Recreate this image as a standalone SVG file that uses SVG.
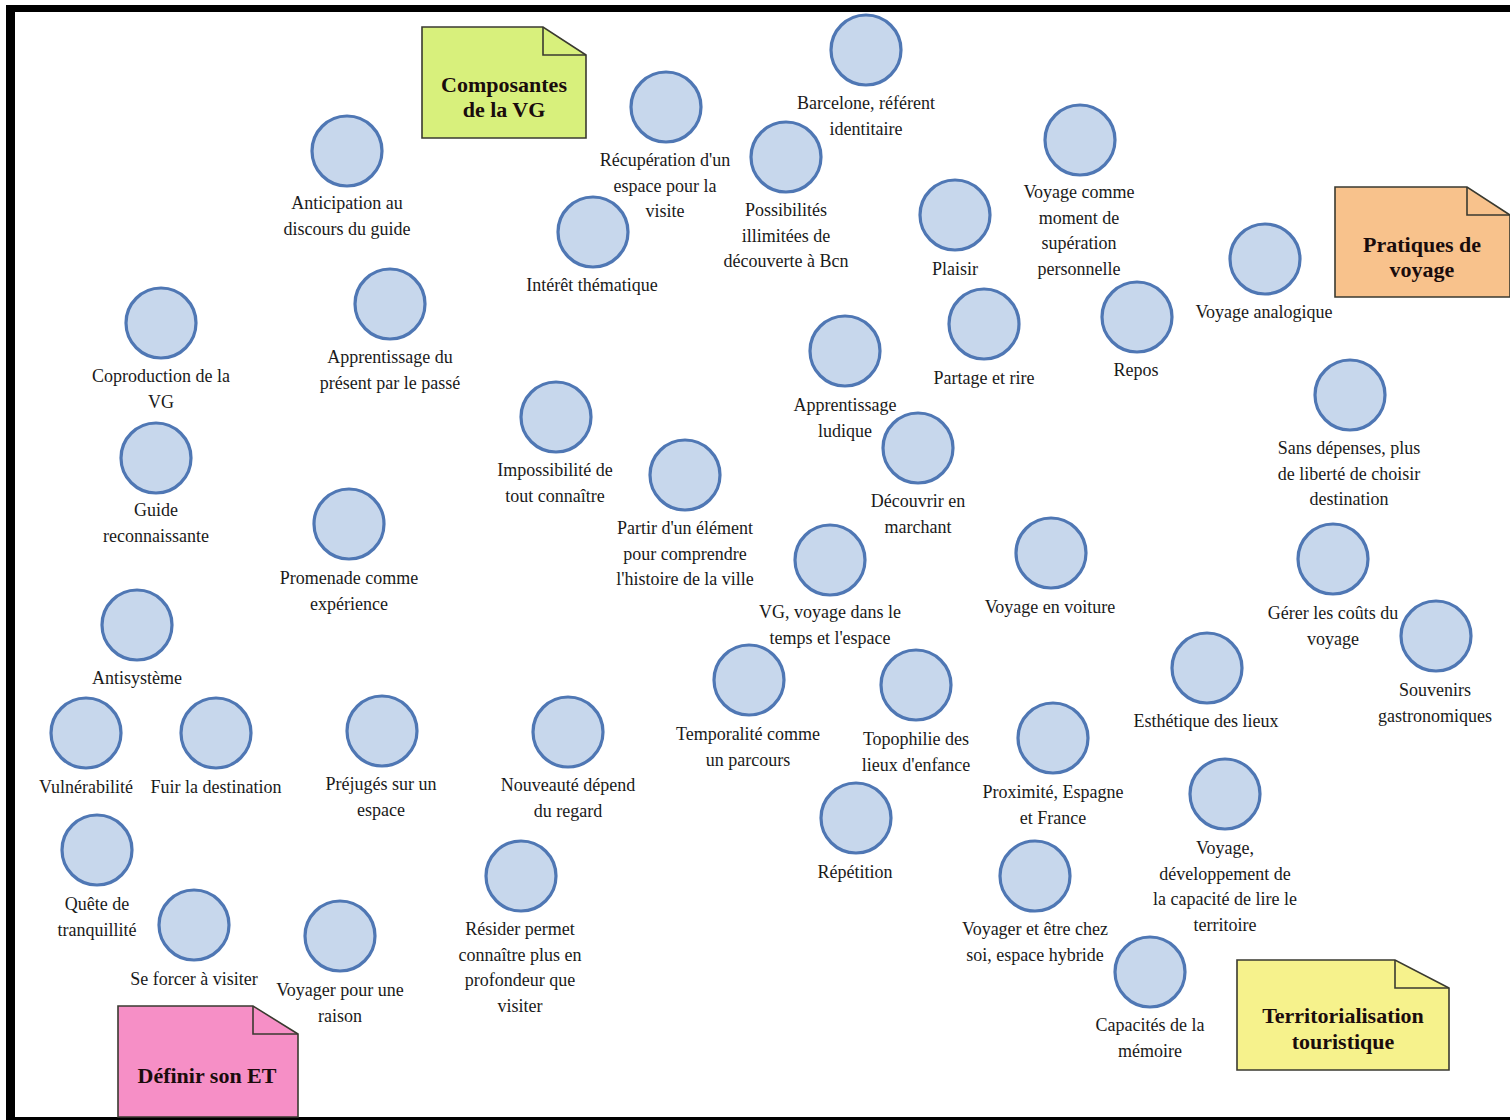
<svg xmlns="http://www.w3.org/2000/svg" width="1510" height="1120" viewBox="0 0 1510 1120">
<style>
.n circle{fill:#c7d7ec;stroke:#4f77b4;stroke-width:3.2}
.n text{font-family:"Liberation Serif","Times New Roman",serif;font-size:18px;fill:#1a1a1a;text-anchor:middle}
.note path.b{stroke:#3a3a30;stroke-width:1.6}
.note path.f{fill:none;stroke:#3a3a30;stroke-width:1.6}
.note text{font-family:"Liberation Serif","Times New Roman",serif;font-size:22px;font-weight:bold;fill:#1a0c0c;text-anchor:middle}
</style>
<rect x="0" y="0" width="1510" height="1120" fill="#ffffff"/>
<g id="frame">
<rect x="6" y="5" width="1504" height="7" fill="#000"/>
<rect x="6" y="5" width="9" height="1115" fill="#000"/>
<rect x="6" y="1117" width="1504" height="3" fill="#000"/>
</g>
<g id="connectors"></g>
<g id="note-composantes" class="note">
<path class="b" fill="#d8f07c" d="M422,27 H543 L586,55 V138 H422 Z"/>
<path class="f" d="M543,27 V55 H586"/>
<text x="504" y="92">Composantes</text>
<text x="504" y="117">de la VG</text>
</g>
<g id="note-pratiques" class="note">
<path class="b" fill="#f8c28c" d="M1335,187 H1467 L1510,215 V297 H1335 Z"/>
<path class="f" d="M1467,187 V215 H1510"/>
<text x="1422" y="252">Pratiques de</text>
<text x="1422" y="277">voyage</text>
</g>
<g id="note-definir" class="note">
<path class="b" fill="#f68fc6" d="M118,1006 H253 L298,1034 V1117 H118 Z"/>
<path class="f" d="M253,1006 V1034 H298"/>
<text x="207" y="1083">Définir son ET</text>
</g>
<g id="note-territorialisation" class="note">
<path class="b" fill="#f6f28c" d="M1237,960 H1395 L1449,988 V1070 H1237 Z"/>
<path class="f" d="M1395,960 V988 H1449"/>
<text x="1343" y="1023">Territorialisation</text>
<text x="1343" y="1049">touristique</text>
</g>
<g id="n1" class="n"><circle cx="866" cy="50" r="35"/><text x="866" y="109">Barcelone, référent<tspan x="866" dy="25.5">identitaire</tspan></text></g>
<g id="n2" class="n"><circle cx="666" cy="107" r="35"/><text x="665" y="166">Récupération d'un<tspan x="665" dy="25.5">espace pour la</tspan><tspan x="665" dy="25.5">visite</tspan></text></g>
<g id="n3" class="n"><circle cx="786" cy="157" r="35"/><text x="786" y="216">Possibilités<tspan x="786" dy="25.5">illimitées de</tspan><tspan x="786" dy="25.5">découverte à Bcn</tspan></text></g>
<g id="n4" class="n"><circle cx="1080" cy="140" r="35"/><text x="1079" y="198">Voyage comme<tspan x="1079" dy="25.5">moment de</tspan><tspan x="1079" dy="25.5">supération</tspan><tspan x="1079" dy="25.5">personnelle</tspan></text></g>
<g id="n5" class="n"><circle cx="955" cy="215" r="35"/><text x="955" y="275">Plaisir</text></g>
<g id="n6" class="n"><circle cx="347" cy="151" r="35"/><text x="347" y="209">Anticipation au<tspan x="347" dy="25.5">discours du guide</tspan></text></g>
<g id="n7" class="n"><circle cx="593" cy="232" r="35"/><text x="592" y="291">Intérêt thématique</text></g>
<g id="n8" class="n"><circle cx="1265" cy="259" r="35"/><text x="1264" y="318">Voyage analogique</text></g>
<g id="n9" class="n"><circle cx="161" cy="323" r="35"/><text x="161" y="382">Coproduction de la<tspan x="161" dy="25.5">VG</tspan></text></g>
<g id="n10" class="n"><circle cx="390" cy="304" r="35"/><text x="390" y="363">Apprentissage du<tspan x="390" dy="25.5">présent par le passé</tspan></text></g>
<g id="n11" class="n"><circle cx="984" cy="324" r="35"/><text x="984" y="384">Partage et rire</text></g>
<g id="n12" class="n"><circle cx="1137" cy="317" r="35"/><text x="1136" y="376">Repos</text></g>
<g id="n13" class="n"><circle cx="845" cy="351" r="35"/><text x="845" y="411">Apprentissage<tspan x="845" dy="25.5">ludique</tspan></text></g>
<g id="n14" class="n"><circle cx="1350" cy="395" r="35"/><text x="1349" y="454">Sans dépenses, plus<tspan x="1349" dy="25.5">de liberté de choisir</tspan><tspan x="1349" dy="25.5">destination</tspan></text></g>
<g id="n15" class="n"><circle cx="556" cy="417" r="35"/><text x="555" y="476">Impossibilité de<tspan x="555" dy="25.5">tout connaître</tspan></text></g>
<g id="n16" class="n"><circle cx="156" cy="458" r="35"/><text x="156" y="516">Guide<tspan x="156" dy="25.5">reconnaissante</tspan></text></g>
<g id="n17" class="n"><circle cx="918" cy="448" r="35"/><text x="918" y="507">Découvrir en<tspan x="918" dy="25.5">marchant</tspan></text></g>
<g id="n18" class="n"><circle cx="685" cy="475" r="35"/><text x="685" y="534">Partir d'un élément<tspan x="685" dy="25.5">pour comprendre</tspan><tspan x="685" dy="25.5">l'histoire de la ville</tspan></text></g>
<g id="n19" class="n"><circle cx="349" cy="524" r="35"/><text x="349" y="584">Promenade comme<tspan x="349" dy="25.5">expérience</tspan></text></g>
<g id="n20" class="n"><circle cx="1051" cy="553" r="35"/><text x="1050" y="613">Voyage en voiture</text></g>
<g id="n21" class="n"><circle cx="830" cy="560" r="35"/><text x="830" y="618">VG, voyage dans le<tspan x="830" dy="25.5">temps et l'espace</tspan></text></g>
<g id="n23" class="n"><circle cx="1436" cy="636" r="35"/><text x="1435" y="696">Souvenirs<tspan x="1435" dy="25.5">gastronomiques</tspan></text></g>
<g id="n22" class="n"><circle cx="1333" cy="559" r="35"/><text x="1333" y="619">Gérer les coûts du<tspan x="1333" dy="25.5">voyage</tspan></text></g>
<g id="n24" class="n"><circle cx="137" cy="625" r="35"/><text x="137" y="684">Antisystème</text></g>
<g id="n25" class="n"><circle cx="749" cy="680" r="35"/><text x="748" y="740">Temporalité comme<tspan x="748" dy="25.5">un parcours</tspan></text></g>
<g id="n26" class="n"><circle cx="916" cy="685" r="35"/><text x="916" y="745">Topophilie des<tspan x="916" dy="25.5">lieux d'enfance</tspan></text></g>
<g id="n27" class="n"><circle cx="1207" cy="668" r="35"/><text x="1206" y="727">Esthétique des lieux</text></g>
<g id="n28" class="n"><circle cx="86" cy="733" r="35"/><text x="86" y="793">Vulnérabilité</text></g>
<g id="n29" class="n"><circle cx="216" cy="733" r="35"/><text x="216" y="793">Fuir la destination</text></g>
<g id="n30" class="n"><circle cx="382" cy="731" r="35"/><text x="381" y="790">Préjugés sur un<tspan x="381" dy="25.5">espace</tspan></text></g>
<g id="n31" class="n"><circle cx="568" cy="732" r="35"/><text x="568" y="791">Nouveauté dépend<tspan x="568" dy="25.5">du regard</tspan></text></g>
<g id="n32" class="n"><circle cx="1053" cy="738" r="35"/><text x="1053" y="798">Proximité, Espagne<tspan x="1053" dy="25.5">et France</tspan></text></g>
<g id="n33" class="n"><circle cx="856" cy="818" r="35"/><text x="855" y="878">Répétition</text></g>
<g id="n34" class="n"><circle cx="97" cy="850" r="35"/><text x="97" y="910">Quête de<tspan x="97" dy="25.5">tranquillité</tspan></text></g>
<g id="n35" class="n"><circle cx="1225" cy="794" r="35"/><text x="1225" y="854">Voyage,<tspan x="1225" dy="25.5">développement de</tspan><tspan x="1225" dy="25.5">la capacité de lire le</tspan><tspan x="1225" dy="25.5">territoire</tspan></text></g>
<g id="n36" class="n"><circle cx="521" cy="876" r="35"/><text x="520" y="935">Résider permet<tspan x="520" dy="25.5">connaître plus en</tspan><tspan x="520" dy="25.5">profondeur que</tspan><tspan x="520" dy="25.5">visiter</tspan></text></g>
<g id="n37" class="n"><circle cx="1035" cy="876" r="35"/><text x="1035" y="935">Voyager et être chez<tspan x="1035" dy="25.5">soi, espace hybride</tspan></text></g>
<g id="n38" class="n"><circle cx="194" cy="925" r="35"/><text x="194" y="985">Se forcer à visiter</text></g>
<g id="n39" class="n"><circle cx="340" cy="936" r="35"/><text x="340" y="996">Voyager pour une<tspan x="340" dy="25.5">raison</tspan></text></g>
<g id="n40" class="n"><circle cx="1150" cy="972" r="35"/><text x="1150" y="1031">Capacités de la<tspan x="1150" dy="25.5">mémoire</tspan></text></g>
</svg>
